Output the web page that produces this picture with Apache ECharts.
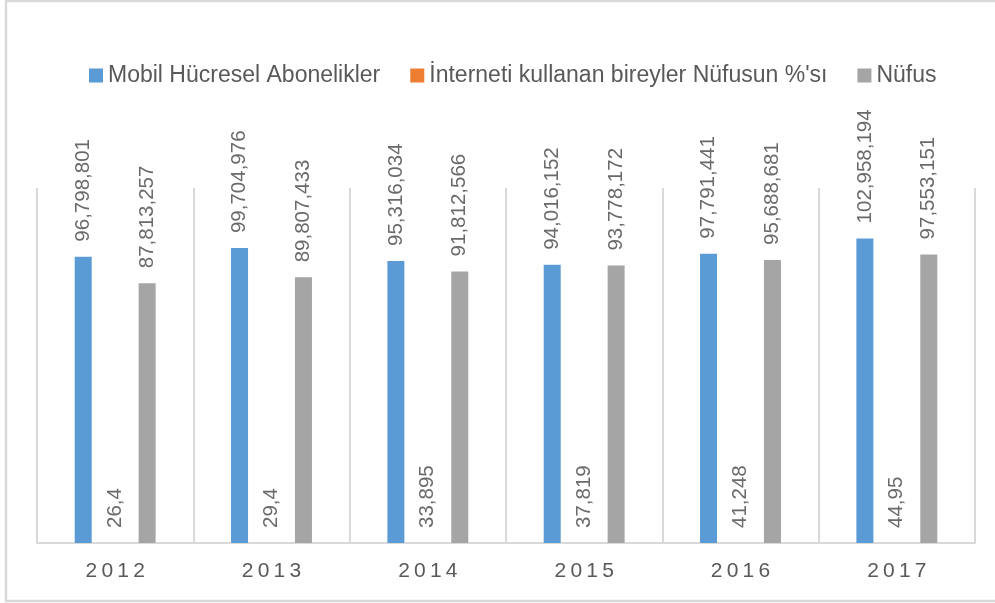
<!DOCTYPE html>
<html>
<head>
<meta charset="utf-8">
<script src="https://cdn.jsdelivr.net/npm/echarts@6/dist/echarts.min.js"></script>
<style>
  html, body { margin: 0; padding: 0; background: #fff; }
  #main { width: 995px; height: 603px; }
</style>
</head>
<body>
<div id="main"></div>
<script>
var years = ["2012", "2013", "2014", "2015", "2016", "2017"];
var mobil = [96798801, 99704976, 95316034, 94016152, 97791441, 102958194];
var internet = [26.4, 29.4, 33.895, 37.819, 41.248, 44.95];
var nufus = [87813257, 89807433, 91812566, 93778172, 95688681, 97553151];
var names = ["Mobil Hücresel Abonelikler", "İnterneti kullanan bireyler Nüfusun %'sı", "Nüfus"];
var colors = ["#5b9bd5", "#ed7d31", "#a5a5a5"];

var chartDom = document.getElementById("main");
var myChart = echarts.init(chartDom);

// Excel style: thousands with commas, decimals with a comma
function fmt(v) {
  if (v >= 1000) return v.toString().replace(/\B(?=(\d{3})+(?!\d))/g, ",");
  return v.toString().replace(".", ",");
}

var label = {
  show: true,
  position: "top",
  rotate: 90,
  align: "left",
  verticalAlign: "middle",
  distance: 15,
  color: "#6a6a6a",
  fontFamily: "Liberation Sans",
  fontSize: 20.5,
  formatter: function (p) { return fmt(p.value); }
};

function bar(i, data) {
  return {
    name: names[i],
    type: "bar",
    data: data,
    barWidth: 17,
    barGap: "88%",
    itemStyle: { color: colors[i] },
    label: label
  };
}

var option = {
  animation: false,
  backgroundColor: "#fff",
  color: colors,
  graphic: [{
    type: "rect",
    shape: { x: 6, y: 1, width: 1000, height: 600 },
    style: { fill: "none", stroke: "#d9d9d9", lineWidth: 2.5 }
  }],
  legend: {
    left: 84,
    top: 59,
    itemWidth: 14,
    itemHeight: 14,
    itemGap: 30,
    icon: "rect",
    textStyle: { color: "#595959", fontFamily: "Liberation Sans", fontSize: 23 },
    data: names
  },
  grid: { left: 37, right: 20, top: 188, bottom: 60 },
  xAxis: {
    type: "category",
    data: years,
    axisLine: { lineStyle: { color: "#d9d9d9", width: 2 } },
    axisTick: { show: false },
    splitLine: { show: true, lineStyle: { color: "#d9d9d9", width: 2 } },
    axisLabel: {
      color: "#595959",
      fontFamily: "Liberation Sans",
      fontSize: 21,
      margin: 18,
      formatter: function (v) { return v.split("").join("\u2009"); }
    }
  },
  yAxis: {
    type: "value",
    min: 0,
    max: 120000000,
    show: false,
    splitLine: { show: false }
  },
  series: [bar(0, mobil), bar(1, internet), bar(2, nufus)]
};

option && myChart.setOption(option);
</script>
</body>
</html>
